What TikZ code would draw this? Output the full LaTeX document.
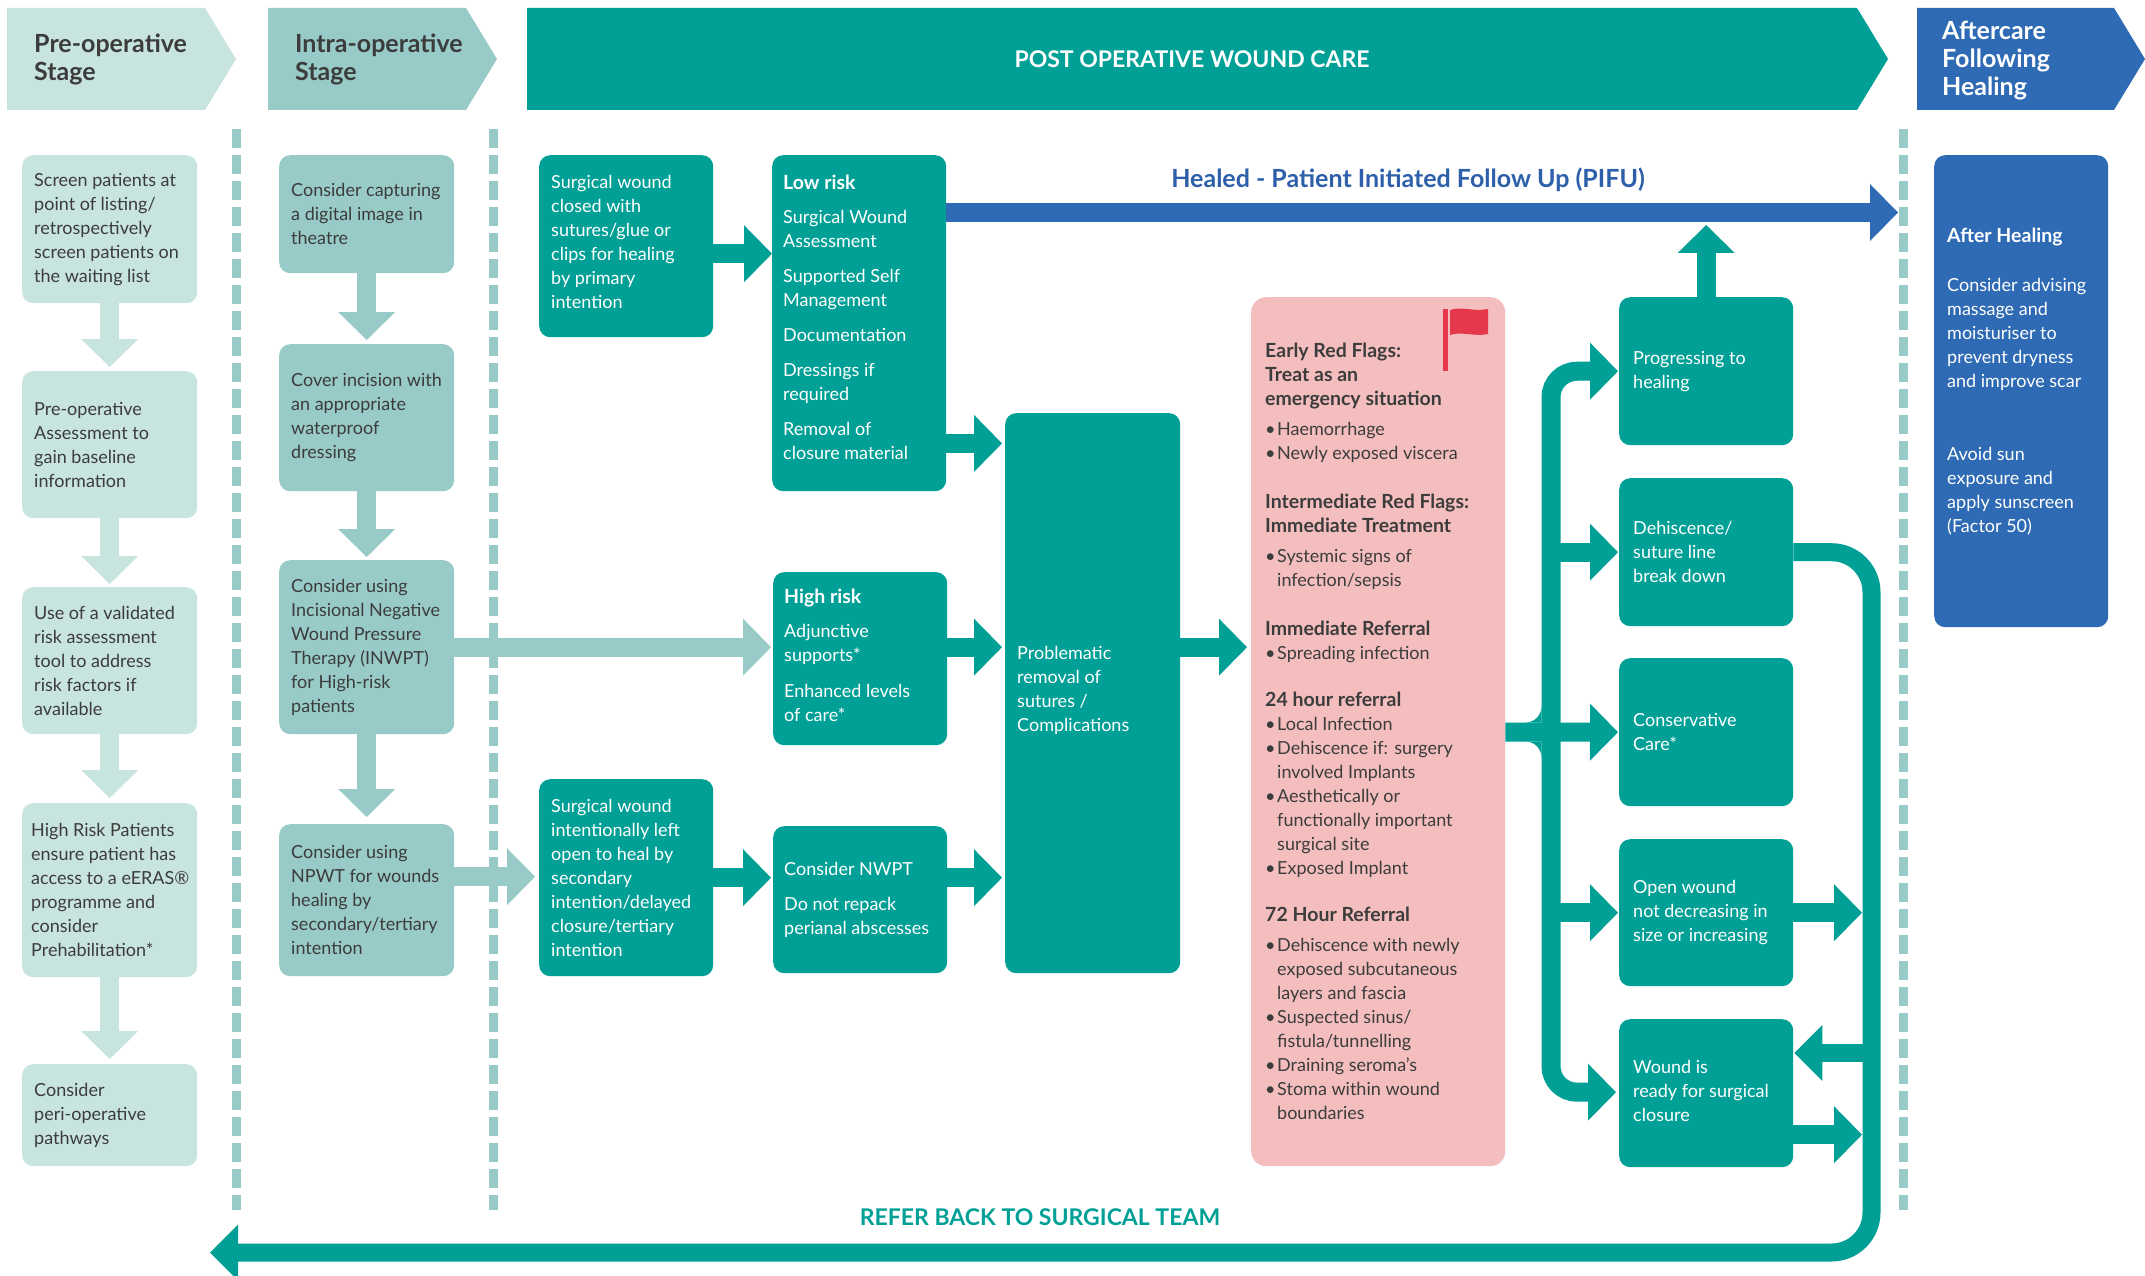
\documentclass[tikz,border=0pt]{standalone}
\usepackage{fontspec}
\setmainfont{Lato}
\usetikzlibrary{arrows.meta,calc}
\definecolor{preopc}{HTML}{C8E4DF}
\definecolor{intrac}{HTML}{98CBC8}
\definecolor{tealc}{HTML}{00A096}
\definecolor{bluec}{HTML}{2E6BB4}
\definecolor{pinkc}{HTML}{F4BEBE}
\definecolor{flagc}{HTML}{E6384C}
\definecolor{darkc}{HTML}{3C3C3C}
\definecolor{pifuc}{HTML}{2D5FAA}
\newcommand{\bul}{\makebox[12pt][l]{\textbullet}}
\newcommand{\ind}{\hspace*{12pt}}
\newcommand{\hb}[1]{{\fontsize{19.5}{24}\selectfont\bfseries #1}}
\begin{document}
\begin{tikzpicture}[x=1pt,y=-1pt,
  box/.style={rounded corners=11pt, anchor=north west, inner sep=0pt},
  pbox/.style={box, fill=preopc},
  ibox/.style={box, fill=intrac},
  tbox/.style={box, fill=tealc},
  txt/.style={anchor=west, inner sep=0pt, align=left, font=\fontsize{18}{24}\selectfont},
  dtxt/.style={txt, text=darkc},
  wtxt/.style={txt, text=white},
  hdr/.style={anchor=north west, inner sep=0pt, align=left, font=\bfseries\fontsize{25}{28}\selectfont},
  arr/.style={line width=19pt, -{Triangle[length=28pt,width=57pt,line width=0pt]}},
  arrb/.style={line width=18pt, -{Triangle[length=28pt,width=56pt,line width=0pt]}},
  dashln/.style={draw=intrac, line width=9pt, dash pattern=on 19pt off 7pt},
]
\useasboundingbox (0,0) rectangle (2145,1276);
\fill[white] (0,0) rectangle (2145,1276);

% ---------- stage headers ----------
\fill[preopc] (7,8) -- (205,8) -- (236,59) -- (205,110) -- (7,110) -- cycle;
\fill[intrac] (268,8) -- (466,8) -- (497,59) -- (466,110) -- (268,110) -- cycle;
\fill[tealc] (527,8) -- (1857,8) -- (1888,59) -- (1857,110) -- (527,110) -- cycle;
\fill[bluec] (1917,8) -- (2114,8) -- (2145,59) -- (2114,110) -- (1917,110) -- cycle;
\node[hdr, text=darkc] (hPre) at (34,34) {Pre-operative\\Stage};
\node[hdr, text=darkc] (hIntra) at (295,34) {Intra-operative\\Stage};
\node[inner sep=0pt, text=white, font=\bfseries\fontsize{23}{28}\selectfont] (hPost) at (1192,59.5) {POST OPERATIVE WOUND CARE};
\node[hdr, text=white] (hAfter) at (1942,21) {Aftercare\\Following\\Healing};

% ---------- dashed separators ----------
\draw[dashln] (236,129) -- (236,1210);
\draw[dashln] (493,129) -- (493,1210);
\draw[dashln] (1903,129) -- (1903,1210);

% ---------- pre-operative column ----------
\node[pbox, minimum width=175pt, minimum height=148pt] (pre1) at (22,155) {};
\node[pbox, minimum width=175pt, minimum height=147pt] (pre2) at (22,371) {};
\node[pbox, minimum width=175pt, minimum height=147pt] (pre3) at (22,587) {};
\node[pbox, minimum width=175pt, minimum height=174pt] (pre4) at (22,803) {};
\node[pbox, minimum width=175pt, minimum height=102pt] (pre5) at (22,1064) {};
\node[dtxt] (pre1t) at ($(pre1.west)+(12,0)$) {Screen patients at\\point of listing/\\retrospectively\\screen patients on\\the waiting list};
\node[dtxt] (pre2t) at ($(pre2.west)+(12,0)$) {Pre-operative\\Assessment to\\gain baseline\\information};
\node[dtxt] (pre3t) at ($(pre3.west)+(12,0)$) {Use of a validated\\risk assessment\\tool to address\\risk factors if\\available};
\node[dtxt] (pre4t) at ($(pre4.west)+(9,0)$) {High Risk Patients\\ensure patient has\\access to a eERAS®\\programme and\\consider\\Prehabilitation*};
\node[dtxt] (pre5t) at ($(pre5.west)+(12,0)$) {Consider\\peri-operative\\pathways};
\draw[arr, color=preopc] (pre1.south) -- ($(pre2.north)+(0,-4)$);
\draw[arr, color=preopc] (pre2.south) -- ($(pre3.north)+(0,-3)$);
\draw[arr, color=preopc] (pre3.south) -- ($(pre4.north)+(0,-5)$);
\draw[arr, color=preopc] (pre4.south) -- ($(pre5.north)+(0,-5)$);

% ---------- intra-operative column ----------
\node[ibox, minimum width=175pt, minimum height=118pt] (in1) at (279,155) {};
\node[ibox, minimum width=175pt, minimum height=147pt] (in2) at (279,344) {};
\node[ibox, minimum width=175pt, minimum height=174pt] (in3) at (279,560) {};
\node[ibox, minimum width=175pt, minimum height=152pt] (in4) at (279,824) {};
\node[dtxt] (in1t) at ($(in1.west)+(12,0)$) {Consider capturing\\a digital image in\\theatre};
\node[dtxt] (in2t) at ($(in2.west)+(12,0)$) {Cover incision with\\an appropriate\\waterproof\\dressing};
\node[dtxt] (in3t) at ($(in3.west)+(12,0)$) {Consider using\\Incisional Negative\\Wound Pressure\\Therapy (INWPT)\\for High-risk\\patients};
\node[dtxt] (in4t) at ($(in4.west)+(12,0)$) {Consider using\\NPWT for wounds\\healing by\\secondary/tertiary\\intention};
\draw[arr, color=intrac] (in1.south) -- ($(in2.north)+(0,-4)$);
\draw[arr, color=intrac] (in2.south) -- ($(in3.north)+(0,-3)$);
\draw[arr, color=intrac] (in3.south) -- ($(in4.north)+(0,-7)$);

% ---------- post-operative column ----------
\node[tbox, minimum width=174pt, minimum height=182pt] (closed) at (539,155) {};
\node[tbox, minimum width=174pt, minimum height=336pt] (low) at (772,155) {};
\node[tbox, minimum width=174pt, minimum height=173pt] (high) at (773,572) {};
\node[tbox, minimum width=174pt, minimum height=197pt] (inten) at (539,779) {};
\node[tbox, minimum width=174pt, minimum height=147pt] (nwpt) at (773,826) {};
\node[tbox, minimum width=175pt, minimum height=560pt] (prob) at (1005,413) {};
\node[box, fill=pinkc, rounded corners=15pt, minimum width=254pt, minimum height=869pt] (red) at (1251,297) {};
\node[tbox, minimum width=174pt, minimum height=148pt] (prog) at (1619,297) {};
\node[tbox, minimum width=174pt, minimum height=148pt] (dehis) at (1619,478) {};
\node[tbox, minimum width=174pt, minimum height=148pt] (cons) at (1619,658) {};
\node[tbox, minimum width=174pt, minimum height=147pt] (open) at (1619,839) {};
\node[tbox, minimum width=174pt, minimum height=148pt] (ready) at (1619,1019) {};
\node[box, fill=bluec, minimum width=174pt, minimum height=472pt] (after) at (1934,155) {};

\node[wtxt] (closedt) at ($(closed.west)+(12,-4)$) {Surgical wound\\closed with\\sutures/glue or\\clips for healing\\by primary\\intention};
\node[wtxt] (lowt) at ($(low.west)+(11,-6)$) {\hb{Low risk}\\[10pt]Surgical Wound\\Assessment\\[11pt]Supported Self\\Management\\[11pt]Documentation\\[11pt]Dressings if\\required\\[11pt]Removal of\\closure material};
\node[wtxt] (hight) at ($(high.west)+(11,-3)$) {\hb{High risk}\\[10pt]Adjunctive\\supports*\\[12pt]Enhanced levels\\of care*};
\node[wtxt] (intent) at ($(inten.west)+(12,0)$) {Surgical wound\\intentionally left\\open to heal by\\secondary\\intention/delayed\\closure/tertiary\\intention};
\node[wtxt] (nwptt) at ($(nwpt.west)+(11,0)$) {Consider NWPT\\[11pt]Do not repack\\perianal abscesses};
\node[wtxt] (probt) at ($(prob.west)+(12,-3)$) {Problematic\\removal of\\sutures /\\Complications};
\node[dtxt] (redt) at ($(red.west)+(14,0)$) {\hb{Early Red Flags:}\\\hb{Treat as an}\\\hb{emergency situation}\\[6pt]
\bul Haemorrhage\\\bul Newly exposed viscera\\[25pt]
\hb{Intermediate Red Flags:}\\\hb{Immediate Treatment}\\[6pt]
\bul Systemic signs of\\\ind infection/sepsis\\[25pt]
\hb{Immediate Referral}\\\bul Spreading infection\\[23pt]
\hb{24 hour referral}\\\bul Local Infection\\\bul Dehiscence if: surgery\\\ind involved Implants\\\bul Aesthetically or\\\ind functionally important\\\ind surgical site\\\bul Exposed Implant\\[23pt]
\hb{72 Hour Referral}\\[6pt]
\bul Dehiscence with newly\\\ind exposed subcutaneous\\\ind layers and fascia\\\bul Suspected sinus/\\\ind fistula/tunnelling\\\bul Draining seroma’s\\\bul Stoma within wound\\\ind boundaries};
\node[wtxt] (progt) at ($(prog.west)+(14,0)$) {Progressing to\\healing};
\node[wtxt] (dehist) at ($(dehis.west)+(14,0)$) {Dehiscence/\\suture line\\break down};
\node[wtxt] (const) at ($(cons.west)+(14,0)$) {Conservative\\Care*};
\node[wtxt] (opent) at ($(open.west)+(14,0)$) {Open wound\\not decreasing in\\size or increasing};
\node[wtxt] (readyt) at ($(ready.west)+(14,-2)$) {Wound is\\ready for surgical\\closure};
\node[wtxt] (aftert) at ($(after.west)+(13,-10)$) {\hb{After Healing}\\[25pt]Consider advising\\massage and\\moisturiser to\\prevent dryness\\and improve scar\\[49pt]Avoid sun\\exposure and\\apply sunscreen\\(Factor 50)};

% red flag
\fill[flagc] (1443,309) rectangle (1448,371);
\fill[flagc] (1450,310) .. controls (1462,306) and (1474,312) .. (1488,309) -- (1488,334) .. controls (1474,337) and (1462,331) .. (1450,335) -- cycle;

% ---------- connectors ----------
\coordinate (c1) at ($(closed.east)+(0,7.5)$);
\draw[arr, color=tealc] (c1) -- (low.west |- c1);
\coordinate (l1) at ($(low.south east)+(0,-48)$);
\draw[arr, color=tealc] (l1) -- ($(prob.west |- l1)+(-3,0)$);
\draw[arr, color=intrac] (in3.east) -- ($(high.west |- in3.east)+(-2,0)$);
\draw[arr, color=tealc] (high.east |- in3.east) -- ($(prob.west |- in3.east)+(-3,0)$);
\coordinate (i4) at ($(in4.east)+(0,-23.5)$);
\draw[arr, color=intrac] (i4) -- ($(inten.west |- i4)+(-4,0)$);
\draw[arr, color=tealc] (inten.east) -- ($(nwpt.west |- inten.east)+(-2,0)$);
\draw[arr, color=tealc] (nwpt.east |- inten.east) -- ($(prob.west |- inten.east)+(-3,0)$);
\draw[arr, color=tealc] (prob.east |- in3.east) -- ($(red.west |- in3.east)+(-4,0)$);

% healed / PIFU
\coordinate (pifu) at (1898,212.5);
\draw[arr, color=bluec] ($(low.north east)+(0,57.5)$) -- (pifu);
\node[anchor=base, inner sep=0pt, text=pifuc, font=\bfseries\fontsize{25}{28}\selectfont] (pifut) at (1408,188) {Healed - Patient Initiated Follow Up (PIFU)};
\coordinate (upTip) at (1706,225);
\draw[arr, color=tealc] (prog.north) -- (prog.north |- upTip);

% left trunk from red flags box
\coordinate (J) at (1551,732);
\draw[arr, color=tealc, rounded corners=26pt] (J) |- ($(prog.west)+(-1,0)$);
\draw[arr, color=tealc, rounded corners=26pt] (J) |- ($(ready.west)+(-3,-1)$);
\draw[arr, color=tealc] (red.east |- J) -- ($(cons.west)+(-1,0)$);
\draw[arr, color=tealc] (J |- dehis.west) -- ($(dehis.west)+(-1,0)$);
\draw[arr, color=tealc] (J |- open.west) -- ($(open.west)+(-1,0)$);
\fill[tealc] (1525.5,722.5) -- (1541.5,722.5) -- (1541.5,706.5) .. controls (1541.5,715.3) and (1534.3,722.5) .. (1525.5,722.5) -- cycle;
\fill[tealc] (1525.5,741.5) -- (1541.5,741.5) -- (1541.5,757.5) .. controls (1541.5,748.7) and (1534.3,741.5) .. (1525.5,741.5) -- cycle;

% right trunk back to surgical team
\coordinate (back) at (210,1252.5);
\coordinate (rtA) at (1871.5,1053);
\coordinate (rtL) at (1862,0);
\draw[arrb, color=tealc, rounded corners=40pt] (dehis.east) -| (1871.5,1252.5) -- (back);
\draw[arrb, color=tealc] (rtA) -- ($(ready.east |- rtA)+(1,0)$);
\draw[arr, color=tealc] (open.east) -- (open.east -| rtL);
\coordinate (rdOut) at ($(ready.east)+(0,41.5)$);
\draw[arr, color=tealc] (rdOut) -- (rdOut -| rtL);
\node[inner sep=0pt, text=tealc, font=\bfseries\fontsize{23}{28}\selectfont] (refer) at (1040,1217.5) {REFER BACK TO SURGICAL TEAM};
\end{tikzpicture}
\end{document}
